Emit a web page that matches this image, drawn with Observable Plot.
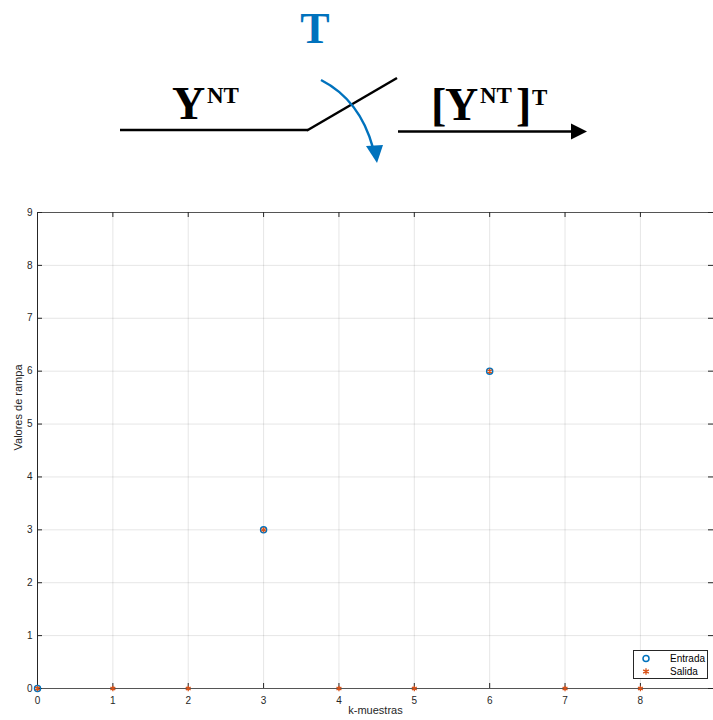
<!DOCTYPE html>
<html>
<head>
<meta charset="utf-8">
<script src="https://cdn.jsdelivr.net/npm/d3@7"></script>
<script src="https://cdn.jsdelivr.net/npm/@observablehq/plot@0.6"></script>
<style>
  html, body { margin: 0; padding: 0; background: #fff; }
  #wrap { position: relative; width: 713px; height: 720px; overflow: hidden; font-family: "Liberation Sans", Arial, sans-serif; }
  #diagram { display: block; }
  #legend { position: absolute; left: 633px; top: 650px; width: 73px; height: 27px; border: 1px solid #262626; background: #fff; font-size: 10px; color: #000; }
  #legend .row { position: absolute; left: 0; height: 13px; line-height: 13px; }
  #legend svg { position: absolute; left: 4px; top: 0; }
  #legend span { position: absolute; left: 36px; top: 0; white-space: nowrap; }
</style>
</head>
<body>
<div id="wrap">
  <svg id="diagram" width="713" height="195"></svg>
  <div id="chart"></div>
  <div id="legend">
    <div class="row" style="top:1px"><svg width="16" height="13"><circle cx="8" cy="6.5" r="3" fill="none" stroke="#0072BD" stroke-width="1.5"/></svg><span>Entrada</span></div>
    <div class="row" style="top:14px"><svg width="16" height="13" id="astsvg"></svg><span>Salida</span></div>
  </div>
</div>
<script>
// ---- Data ----
const xTicks = [0, 1, 2, 3, 4, 5, 6, 7, 8];
const yTicks = [0, 1, 2, 3, 4, 5, 6, 7, 8, 9];
const entradaK = [0, 3, 6];
const entradaV = [0, 3, 6];
const salidaK = [0, 1, 2, 3, 4, 5, 6, 7, 8];
const salidaV = [0, 0, 0, 3, 0, 0, 6, 0, 0];
const seriesNames = ["Entrada", "Salida"];
const xLabel = "k-muestras";
const yLabel = "Valores de rampa";

const entrada = entradaK.map((k, i) => ({k, v: entradaV[i]}));
const salida = salidaK.map((k, i) => ({k, v: salidaV[i]}));

// ---- Diagram (sampler) ----
const dg = d3.select("#diagram");
const ink = "#000";
const blue = "#0072BD";
dg.append("line").attr("x1", 120).attr("y1", 130).attr("x2", 308).attr("y2", 130).attr("stroke", ink).attr("stroke-width", 2.5);
dg.append("line").attr("x1", 307).attr("y1", 130.5).attr("x2", 397).attr("y2", 78).attr("stroke", ink).attr("stroke-width", 2.5);
dg.append("line").attr("x1", 398).attr("y1", 131.5).attr("x2", 575).attr("y2", 131.5).attr("stroke", ink).attr("stroke-width", 2.5);
dg.append("polygon").attr("points", "571,123.5 587,131.5 571,139.5").attr("fill", ink);
dg.append("path").attr("d", "M321,80 Q360,100 373,148").attr("fill", "none").attr("stroke", blue).attr("stroke-width", 2.5);
dg.append("polygon").attr("points", "366,146 377,163 383,145").attr("fill", blue);
const serif = "'Liberation Serif', 'DejaVu Serif', serif";
function txt(x, y, s, size, fill, anchor) {
  dg.append("text").attr("x", x).attr("y", y).attr("font-family", serif).attr("font-weight", "bold")
    .attr("font-size", size).attr("fill", fill || ink).attr("text-anchor", anchor || "start").text(s);
}
txt(315, 43, "T", 44, blue, "middle");
txt(172, 119, "Y", 46);
txt(207, 103, "NT", 23);
txt(431, 120, "[", 46);
txt(445, 120, "Y", 46);
txt(480, 103, "NT", 23);
txt(516, 120, "]", 46);
txt(532, 105, "T", 23);

// ---- Chart ----
const W = 713, H = 525, mT = 17, mB = 32, mL = 37, mR = 0;
const plotW = W - mL - mR, plotH = H - mT - mB;
const axisColor = "#262626";
const chart = Plot.plot({
  width: W,
  height: H,
  marginTop: mT,
  marginBottom: mB,
  marginLeft: mL,
  marginRight: mR,
  style: {fontFamily: "'Liberation Sans', Arial, sans-serif", fontSize: "10px", background: "#fff", overflow: "visible"},
  x: {domain: [0, 8.97]},
  y: {domain: [0, 9]},
  marks: [
    Plot.gridX(xTicks, {stroke: "#000", strokeOpacity: 0.1}),
    Plot.gridY(yTicks, {stroke: "#000", strokeOpacity: 0.1}),
    Plot.ruleY([0], {stroke: "#555", strokeWidth: 1}),
    Plot.ruleY([9], {stroke: "#555", strokeWidth: 1}),
    Plot.ruleX([0], {stroke: axisColor, strokeWidth: 1}),
    Plot.tickX(xTicks, {x: d => d, insetTop: plotH - 5, stroke: axisColor}),
    Plot.tickX(xTicks, {x: d => d, insetBottom: plotH - 5, stroke: axisColor}),
    Plot.tickY(yTicks, {y: d => d, insetRight: plotW - 5, stroke: axisColor}),
    Plot.tickY(yTicks, {y: d => d, insetLeft: plotW - 5, stroke: axisColor}),
    Plot.axisX(xTicks, {tickSize: 0, tickPadding: 8, fill: axisColor, label: null, fontSize: 10, tickFormat: d => String(d)}),
    Plot.axisY(yTicks, {tickSize: 0, tickPadding: 5, fill: axisColor, label: null, fontSize: 10, tickFormat: d => String(d)}),
    Plot.text([xLabel], {frameAnchor: "bottom", dy: 25, fill: axisColor, fontSize: 11}),
    Plot.text([yLabel], {frameAnchor: "left", rotate: -90, dx: -19, fill: axisColor, fontSize: 11}),
    Plot.dot(entrada, {x: "k", y: "v", r: 3, stroke: "#0072BD", strokeWidth: 1.5, fill: "none"}),
    Plot.dot(salida, {x: "k", y: "v", r: 2.6, symbol: "asterisk", stroke: "#D95319", strokeWidth: 1.3})
  ]
});
d3.select(chart).style("display", "block");
document.getElementById("chart").appendChild(chart);

// legend asterisk glyph drawn with d3 symbol
d3.select("#astsvg").append("path")
  .attr("transform", "translate(8,6.5)")
  .attr("d", d3.symbol(d3.symbolAsterisk, 30)())
  .attr("fill", "none").attr("stroke", "#D95319").attr("stroke-width", 1.3);
d3.selectAll("#legend span").data(seriesNames).text(d => d);
</script>
</body>
</html>
